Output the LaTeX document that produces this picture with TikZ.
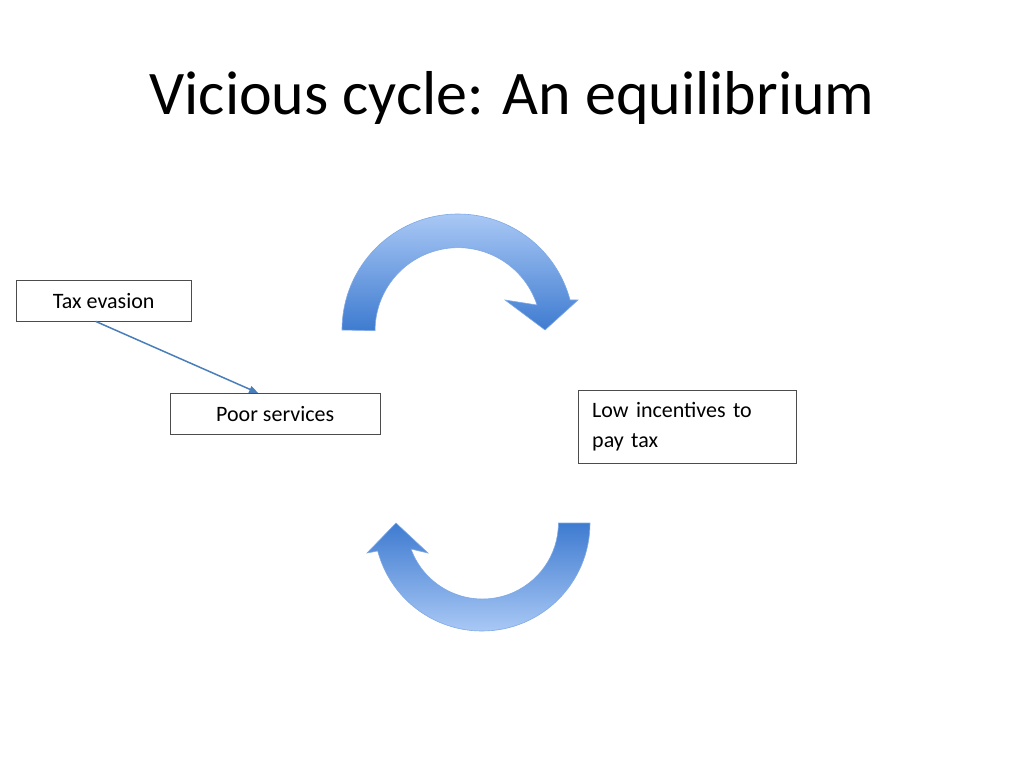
\documentclass[tikz,border=0pt]{standalone}
\usepackage{fontspec}
\setmainfont{Carlito}
\usetikzlibrary{arrows.meta}
\definecolor{arrlight}{HTML}{A9C8F5}
\definecolor{arrdark}{HTML}{3E7BD0}
\definecolor{linkblue}{HTML}{4A7EBB}
\begin{document}
\begin{tikzpicture}
    [x=1pt,y=-1pt,
      box/.style={draw=black!70,rectangle,inner sep=8pt,anchor=north west,
        align=left,font=\fontsize{22}{30}\selectfont},
      cyclearrow/.style={draw=arrlight!60!arrdark,line width=0.6pt}
    ]
    \useasboundingbox (0,0) rectangle (1024,768);

    \node at (512,98) (title) {\fontsize{62}{70}\selectfont Vicious cycle: An equilibrium};

    % boxes
    \node [box,minimum width=175,minimum height=41] at (16,280) (tax) {Tax evasion};
    \node [box,minimum width=210,minimum height=41] at (170,393) (poor) {Poor services};
    \node [box,minimum width=218,minimum height=73,text width=190] at (578,390) (low)
      {Low incentives to\\pay tax};

    % top curved arrow
    \path [cyclearrow,top color=arrlight,bottom color=arrdark]
      (342,330) arc[start angle=180,end angle=345,radius=116]
      -- (578,300) -- (545,330) -- (505,300) -- (537,305)
      arc[start angle=342,end angle=180,radius=83] -- cycle;

    % bottom curved arrow
    \path [cyclearrow,top color=arrdark,bottom color=arrlight]
      (590,523) arc[start angle=0,end angle=165,radius=108]
      -- (367,553) -- (396,523) -- (428,553) -- (411,549)
      arc[start angle=160,end angle=0,radius=76] -- cycle;

    \draw [linkblue,line width=1.5pt,-{Triangle[length=9pt,width=7pt]}]
      ([xshift=-8pt]tax.south) -- ([xshift=-17pt]poor.north);
\end{tikzpicture}
\end{document}
